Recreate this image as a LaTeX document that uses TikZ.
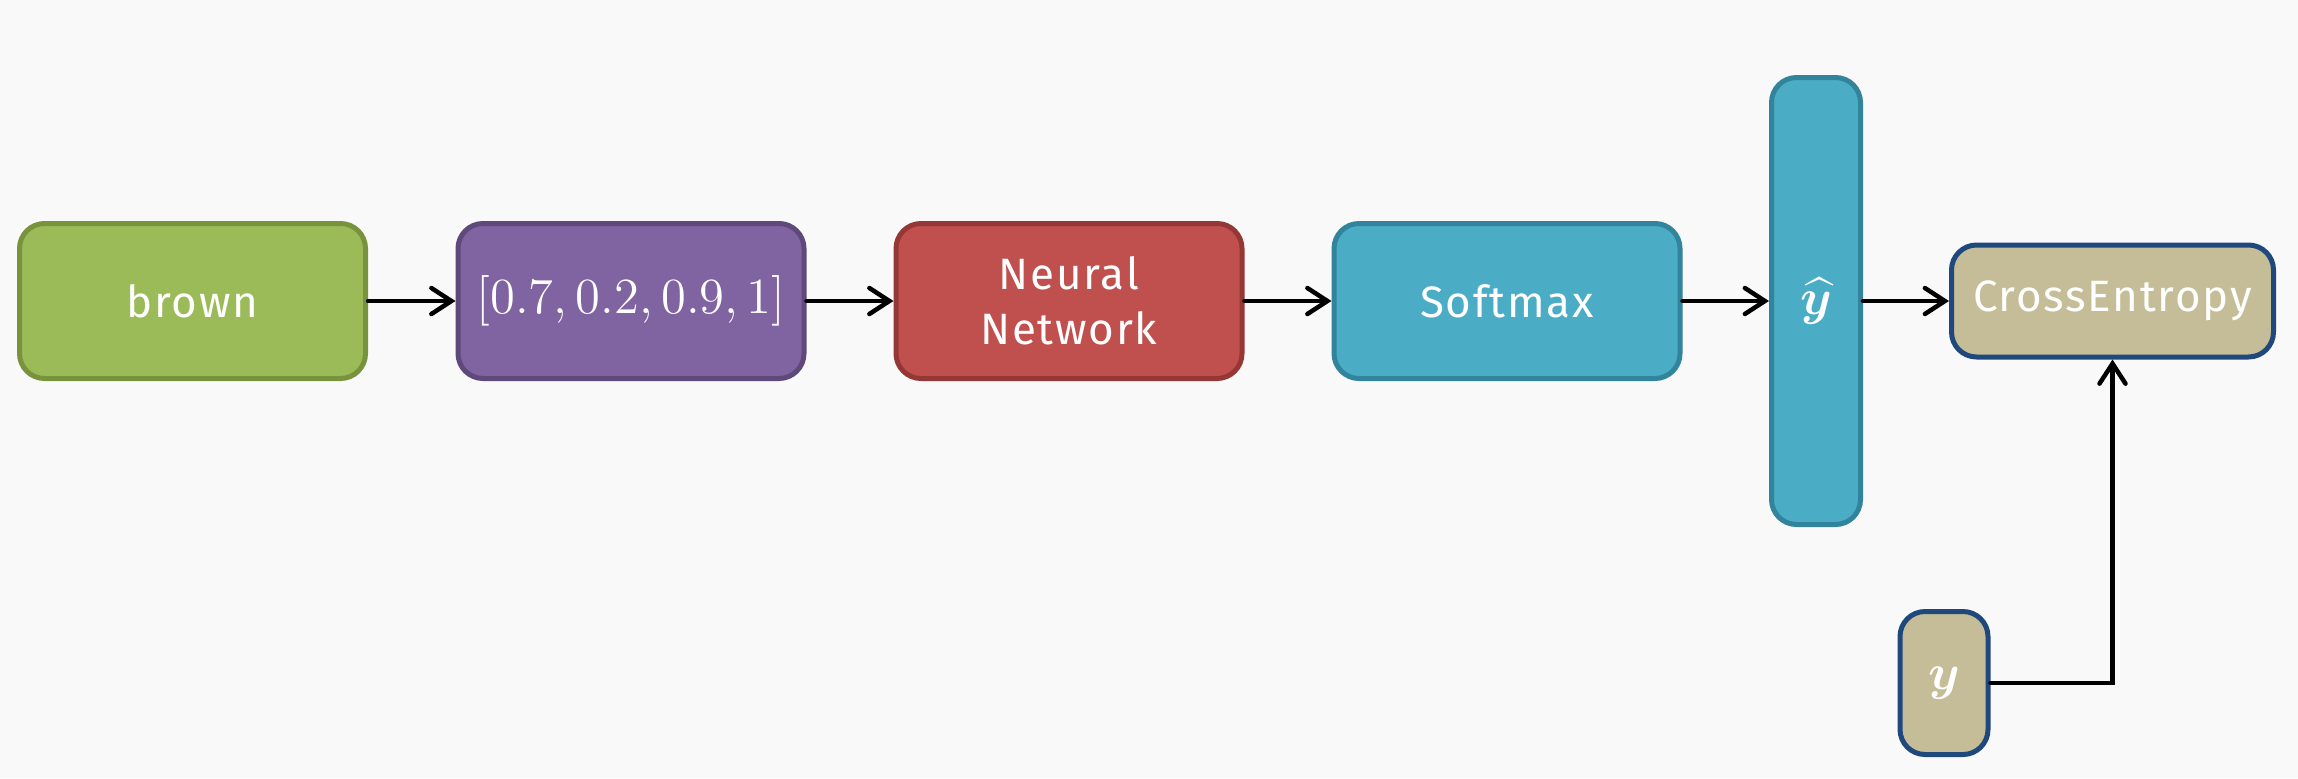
\documentclass[tikz,border=0pt]{standalone}
\usepackage{fontspec}
\usepackage{amsmath}
\usepackage{bm}
\setmainfont{Fira Sans}[LetterSpace=4]
\usetikzlibrary{arrows.meta}
\definecolor{bgc}{HTML}{F9F9F9}
\definecolor{gfill}{HTML}{9BBB59}\definecolor{gdraw}{HTML}{77933C}
\definecolor{pfill}{HTML}{8064A2}\definecolor{pdraw}{HTML}{5F497A}
\definecolor{rfill}{HTML}{C0504D}\definecolor{rdraw}{HTML}{953735}
\definecolor{tfill}{HTML}{4BACC6}\definecolor{tdraw}{HTML}{31849B}
\definecolor{kfill}{HTML}{C4BD97}\definecolor{kdraw}{HTML}{1F497D}
\tikzset{
  box/.style={rounded corners=2.5mm, line width=0.5mm, text=white, align=center,
    inner sep=0pt, font=\fontsize{12.5}{15.6}\selectfont},
  wide/.style={box, minimum width=34.6mm, minimum height=15.5mm},
  conn/.style={line width=0.45mm, line cap=round, -{Straight Barb[length=2mm,width=2.6mm,line cap=round]}}
}
\begin{document}
\begin{tikzpicture}[x=0.1mm, y=-0.1mm]
\fill[bgc] (0,0) rectangle (2298,778);
\useasboundingbox (0,0) rectangle (2298,778);
\node[wide, fill=gfill, draw=gdraw] (brown) at (192.5,301) {brown};
\node[wide, fill=pfill, draw=pdraw] (vec) at (631,301) {\fontsize{13.8}{16}\selectfont$[0.7, 0.2, 0.9, 1]$};
\node[wide, fill=rfill, draw=rdraw] (nn) at (1069,301) {Neural\\Network};
\node[wide, fill=tfill, draw=tdraw] (soft) at (1507,301) {Softmax};
\node[box, fill=tfill, draw=tdraw, minimum width=8.9mm, minimum height=44.7mm] (yhat) at (1816,301) {\fontsize{15}{17}\selectfont$\widehat{\bm{y}}$};
\node[box, fill=kfill, draw=kdraw, minimum width=32.2mm, minimum height=11.2mm] (ce) at (2112.5,301) {CrossEntropy};
\node[box, fill=kfill, draw=kdraw, minimum width=8.8mm, minimum height=14.3mm] (y) at (1944,683) {\fontsize{15}{17}\selectfont$\bm{y}$};
\draw[conn] (brown.east) -- (vec.west);
\draw[conn] (vec.east) -- (nn.west);
\draw[conn] (nn.east) -- (soft.west);
\draw[conn] (soft.east) -- (soft.east -| yhat.west);
\draw[conn] (yhat.east |- ce.west) -- (ce.west);
\draw[conn] (y.east) -| (ce.south);
\end{tikzpicture}
\end{document}
